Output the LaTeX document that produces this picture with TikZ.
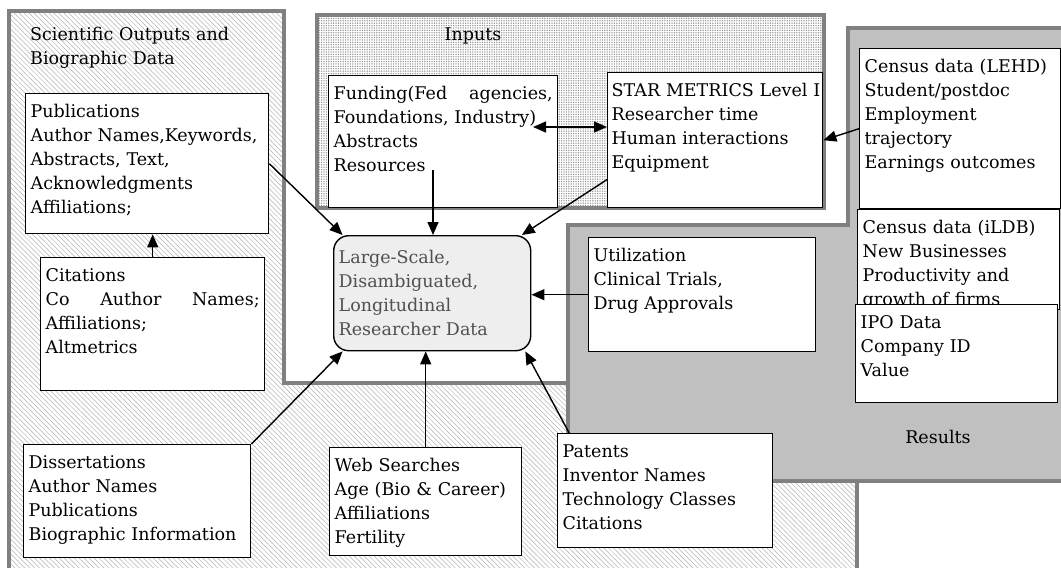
\documentclass[tikz,border=0pt]{standalone}
\usepackage{fontspec}
\setmainfont{DejaVu Serif}
\usepackage{tikz}
\usetikzlibrary{arrows.meta,patterns.meta}
\definecolor{framegray}{HTML}{808080}
\definecolor{resgray}{HTML}{C0C0C0}
\definecolor{hubfill}{HTML}{EEEEEE}
\definecolor{hubtext}{HTML}{505050}
\tikzset{
  txtbox/.style = {rectangle, anchor=north west, align=left, inner xsep=5pt,
    inner ysep=4pt, text height=20pt, font=\fontsize{17.5}{24}\selectfont},
  databox/.style 2 args = {txtbox, draw=black, line width=1.4pt, fill=white,
    text width=#1, text depth=#2},% white box, text width and depth
  hub/.style = {databox={187pt}{83pt}, text height=24pt, fill=hubfill,
    text=hubtext, rounded corners=15pt},% large-scale data, centre
  region/.style = {draw=framegray, line width=4.5pt},
  regtitle/.style = {txtbox, draw=none, fill=none},
  flow/.style = {-{Triangle[length=13pt,width=11pt]}, line width=1.4pt},
  biflow/.style = {flow, {Triangle[length=13pt,width=11pt]}-{Triangle[length=13pt,width=11pt]}}
}

\begin{document}
\begin{tikzpicture}[x=1pt, y=-1pt]
  \useasboundingbox (0,0) rectangle (1061,568);
  \clip (0,0) rectangle (1061,568);
  \fill[white] (0,0) rectangle (1061,568);

  % scientific outputs (hatched)
  \fill[pattern={Lines[angle=-45,distance=3.5pt,line width=0.5pt]}, pattern color=gray!60]
    (9,11) -- (284,11) -- (284,383) -- (857,383) -- (857,580) -- (9,580) -- cycle;
  \draw[region] (9,11) -- (284,11) -- (284,383) -- (857,383) -- (857,580) -- (9,580) -- cycle;
  % inputs
  \fill[white] (317,15) rectangle (824,208);
  \fill[pattern={Dots[distance=2.4pt,radius=0.75pt]}, pattern color=gray!85] (317,15) rectangle (824,208);
  \draw[region] (317,15) rectangle (824,208);
  % results
  \draw[region, fill=resgray] (848,28) -- (1075,28) -- (1075,481) -- (568,481)
    -- (568,225) -- (848,225) -- cycle;

  \node [regtitle, text width=240pt] (sciname) at (25,16) {Scientific Outputs and\\Biographic Data};
  \node [regtitle, anchor=base] (inname) at (473,40) {Inputs};
  \node [regtitle, anchor=base] (resname) at (938,443) {Results};

  \node [databox={233pt}{112pt}] (pubs) at (25,93)
    {Publications\\Author Names,Keywords,\\Abstracts, Text,\\Acknowledgments\\Affiliations;};
  \node [databox={214pt}{105pt}] (cites) at (40,257)
    {Citations\\Co\hfill Author\hfill Names;\\Affiliations;\\Altmetrics};
  \node [databox={217pt}{85pt}] (diss) at (23,444)
    {Dissertations\\Author Names\\Publications\\Biographic Information};
  \node [databox={182pt}{80pt}] (web) at (329,447)
    {Web Searches\\Age (Bio \& Career)\\Affiliations\\Fertility};
  \node [databox={205pt}{86pt}] (patents) at (557,433)
    {Patents\\Inventor Names\\Technology Classes\\Citations};
  \node [databox={219pt}{104pt}] (funding) at (328,75)
    {Funding(Fed\hfill agencies,\\Foundations, Industry)\\Abstracts\\Resources};
  \node [databox={207pt}{107pt}, inner xsep=4pt] (star) at (607,72)
    {\mbox{STAR METRICS Level I}\\Researcher time\\Human interactions\\Equipment};
  \node [databox={191pt}{132pt}] (lehd) at (859,48)
    {Census data (LEHD)\\Student/postdoc\\Employment\\trajectory\\Earnings outcomes};
  \node [databox={192pt}{72pt}] (ildb) at (857,209)
    {Census data (iLDB)\\New Businesses\\Productivity and\\growth of firms};
  \node [databox={192pt}{70pt}] (ipo) at (855,304)
    {IPO Data\\Company ID\\Value};
  \node [databox={217pt}{86pt}] (util) at (588,237)
    {Utilization\\Clinical Trials,\\Drug Approvals};
  \node [hub] (hub) at (333,235)
    {Large-Scale,\\Disambiguated,\\Longitudinal\\Researcher Data};

  \coordinate (res) at (433,170);
  \coordinate (fundarr) at (533,127);
  \draw[flow] (pubs.east) -- (hub.147);
  \draw[flow] (cites.north) -- (cites.north |- pubs.south);
  \draw[flow] (res) -- (res |- hub.north);
  \draw[biflow] (fundarr) -- (fundarr -| star.west);
  \draw[flow] (star.200) -- (hub.33);
  \draw[flow] (lehd.west) -- (star.east);
  \draw[flow] (util.west) -- (util.west -| hub.east);
  \draw[flow] (diss.north east) -- (hub.213);
  \draw[flow] (web.north) -- (web.north |- hub.south);
  \draw[flow] (patents.149) -- (hub.328);
\end{tikzpicture}
\end{document}
